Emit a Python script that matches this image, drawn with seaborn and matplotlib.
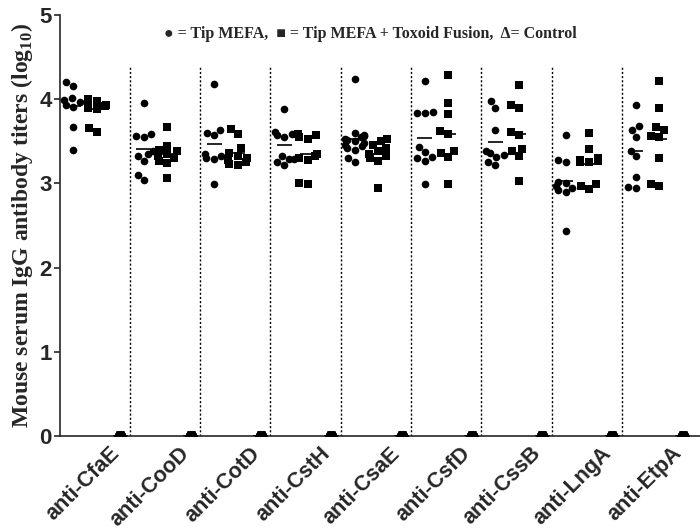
import numpy as np
import pandas as pd
import matplotlib
matplotlib.use('Agg')
import matplotlib.pyplot as plt
from matplotlib.font_manager import FontProperties
import seaborn as sns

# Values (log10 titers)
antigens = ['anti-CfaE', 'anti-CooD', 'anti-CotD', 'anti-CstH', 'anti-CsaE',
            'anti-CsfD', 'anti-CssB', 'anti-LngA', 'anti-EtpA']

tip_mefa = [
    [4.20, 4.16, 4.01, 3.99, 3.97, 3.91, 3.93, 3.67, 3.40],
    [3.96, 3.56, 3.55, 3.59, 3.38, 3.35, 3.33, 3.27, 3.04, 3.10],
    [4.18, 3.63, 3.57, 3.60, 3.33, 3.30, 3.29, 3.35, 2.99],
    [3.88, 3.61, 3.57, 3.59, 3.55, 3.29, 3.26, 3.29, 3.22, 3.33],
    [4.24, 3.60, 3.58, 3.56, 3.55, 3.53, 3.52, 3.50, 3.48, 3.46, 3.44, 3.42, 3.40, 3.30, 3.25],
    [4.22, 3.85, 3.84, 3.84, 3.43, 3.37, 3.31, 3.27, 3.30, 2.99],
    [3.98, 3.90, 3.63, 3.36, 3.39, 3.31, 3.26, 3.22, 3.34],
    [3.58, 3.25, 3.28, 3.02, 3.00, 2.97, 2.95, 2.92, 2.90, 2.43],
    [3.93, 3.68, 3.63, 3.55, 3.39, 3.32, 3.08, 2.95, 2.96],
]

fusion = [
    [4.00, 3.98, 3.97, 3.95, 3.93, 3.92, 3.90, 3.88, 3.66, 3.61],
    [3.67, 3.45, 3.40, 3.38, 3.35, 3.33, 3.30, 3.27, 3.24, 3.06],
    [3.65, 3.59, 3.42, 3.36, 3.33, 3.30, 3.28, 3.25, 3.23, 3.22],
    [3.57, 3.59, 3.55, 3.53, 3.35, 3.33, 3.28, 3.30, 2.99, 3.01],
    [3.53, 3.50, 3.46, 3.42, 3.38, 3.35, 3.32, 3.30, 3.27, 2.95],
    [4.29, 3.95, 3.82, 3.59, 3.62, 3.36, 3.39, 3.31, 2.99],
    [4.17, 3.93, 3.89, 3.57, 3.61, 3.38, 3.41, 3.32, 3.03],
    [3.60, 3.41, 3.30, 3.28, 3.27, 3.26, 3.25, 2.99, 2.97, 2.93],
    [4.22, 3.90, 3.67, 3.63, 3.55, 3.56, 3.30, 2.97, 2.99],
]

control = [0.0, 0.0, 0.0, 0.0, 0.0]

groups = ['Tip MEFA', 'Fusion', 'Control']


def build_frame():
    rows = []
    for i, ag in enumerate(antigens):
        for grp, vals in zip(groups, [tip_mefa[i], fusion[i], control]):
            for v in vals:
                rows.append({'slot': f'{ag}|{grp}', 'group': grp, 'titer': v})
    return pd.DataFrame(rows)


df = build_frame()
slots = [f'{ag}|{grp}' for ag in antigens for grp in groups]

sns.set_style('ticks')
plt.rcParams['mathtext.fontset'] = 'custom'
plt.rcParams['mathtext.rm'] = 'Liberation Serif'
plt.rcParams['mathtext.bf'] = 'Liberation Serif:bold'

fig = plt.figure(figsize=(7, 5.29), dpi=100)
ax = fig.add_axes([60 / 700, 1 - 436 / 529, 640 / 700, 421 / 529])

# control "triangles" sit on the axis, only their tops show
mound = [(-1, -0.5), (1, -0.5), (0.45, 0.6), (-0.45, 0.6), (-1, -0.5)]

sns.swarmplot(data=df[df['group'] == 'Tip MEFA'], x='slot', y='titer', order=slots,
              color='black', marker='o', size=5.5, linewidth=0, ax=ax, clip_on=False)
sns.swarmplot(data=df[df['group'] == 'Fusion'], x='slot', y='titer', order=slots,
              color='black', marker='s', size=6, linewidth=0, ax=ax)
sns.stripplot(data=df[df['group'] == 'Control'], x='slot', y='titer', order=slots,
              color='black', marker=mound, size=12, jitter=False, linewidth=0,
              ax=ax, clip_on=True)

# mean bars
means = df.groupby('slot')['titer'].mean().reindex(slots)
xpos = np.arange(len(slots))
ax.hlines(means.values, xpos - 0.32, xpos + 0.32, color='black', lw=1.2, zorder=5)

# dotted separators between antigens
for k in range(len(antigens) - 1):
    ax.vlines(3 * k + 2.405, 0, 4.4, color='black', lw=1, linestyles=(0, (1.5, 1.5)))

ax.set_xlim(-0.576, 26.74)
ax.set_ylim(0, 5)
ax.set_yticks([0, 1, 2, 3, 4, 5])
ax.set_xticks(xpos[1::3] + 0.5)
ax.set_xticklabels(antigens, rotation=45, ha='right', rotation_mode='anchor')
ax.tick_params(axis='x', length=0, pad=5)
ax.tick_params(axis='y', length=4, width=1.2, direction='out', pad=2)
ax.set_xlabel('')
ax.set_ylabel('Mouse serum IgG antibody titers (log$_{\\mathbf{10}}$)', labelpad=3,
              fontproperties=FontProperties(family='Liberation Serif', weight='bold', size=17))
sns.despine(ax=ax)
for sp in ['left', 'bottom']:
    ax.spines[sp].set_linewidth(1.2)

tick_font = FontProperties(family='Liberation Sans', weight='bold', size=16)
lab_font = FontProperties(family='Liberation Sans', weight='bold', size=15.5)
for t in ax.get_yticklabels():
    t.set_fontproperties(tick_font)
for t in ax.get_xticklabels():
    t.set_fontproperties(lab_font)

fig.text(0.529, 0.936, '\u25cf = Tip MEFA,  \u25a0 = Tip MEFA + Toxoid Fusion,  \u0394= Control',
         ha='center', va='center', fontsize=11.5, fontweight='bold',
         family=['Liberation Serif', 'DejaVu Serif'])

fig.savefig('out.png', dpi=100)
